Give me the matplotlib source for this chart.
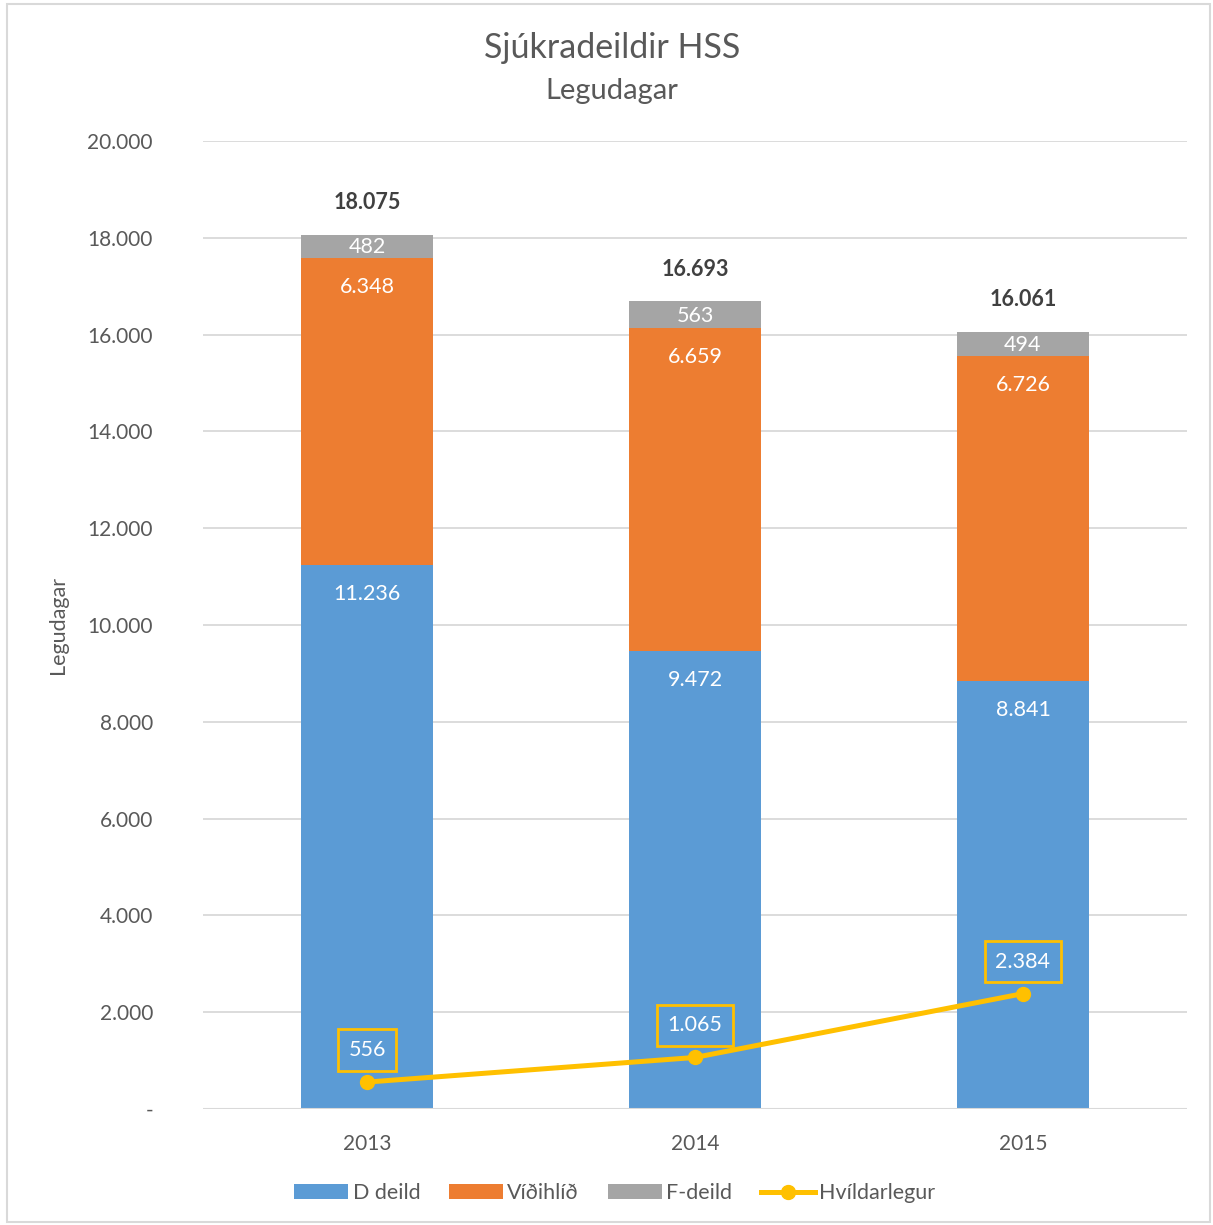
import matplotlib.pyplot as plt
from matplotlib.patches import Rectangle
import numpy as np

plt.rcParams['font.family'] = ['Lato', 'DejaVu Sans']

# Data
years = ['2013', '2014', '2015']
d_deild = [11236, 9472, 8841]
vidihlid = [6348, 6659, 6726]
f_deild = [482, 563, 494]
totals = [18075, 16693, 16061]
hvildarlegur = [556, 1065, 2384]

blue = '#5B9BD5'
orange = '#ED7D31'
gray = '#A5A5A5'
yellow = '#FFC000'
txt = '#595959'


def fmt(v):
    return f'{v:,}'.replace(',', '.')


fig = plt.figure(figsize=(12.13, 12.25), dpi=100)
ax = fig.add_axes([203 / 1213, 116 / 1225, 984 / 1213, 968 / 1225])

x = np.arange(len(years))
w = 0.4
b1 = ax.bar(x, d_deild, w, color=blue, label='D deild', zorder=2)
b2 = ax.bar(x, vidihlid, w, bottom=d_deild, color=orange, label='Víðihlíð', zorder=2)
bottom3 = np.array(d_deild) + np.array(vidihlid)
b3 = ax.bar(x, f_deild, w, bottom=bottom3, color=gray, label='F-deild', zorder=2)
ln, = ax.plot(x, hvildarlegur, color=yellow, lw=3.6, marker='o', ms=10,
              label='Hvíldarlegur', zorder=4)

# labels inside bars
for i in range(len(years)):
    ax.annotate(fmt(d_deild[i]), (x[i], d_deild[i]), xytext=(0, -29),
                textcoords='offset pixels', ha='center', va='center',
                color='white', fontsize=15.5, zorder=5)
    ax.annotate(fmt(vidihlid[i]), (x[i], bottom3[i]), xytext=(0, -29),
                textcoords='offset pixels', ha='center', va='center',
                color='white', fontsize=15.5, zorder=5)
    ax.annotate(fmt(f_deild[i]), (x[i], bottom3[i] + f_deild[i] / 2), xytext=(0, -1),
                textcoords='offset pixels', ha='center', va='center',
                color='white', fontsize=15.5, zorder=5)
    ax.annotate(fmt(totals[i]), (x[i], bottom3[i] + f_deild[i]), xytext=(0, 32),
                textcoords='offset pixels', ha='center', va='center',
                color='#404040', fontsize=15.5, fontweight='bold', zorder=5)
    ax.annotate(fmt(hvildarlegur[i]), (x[i], hvildarlegur[i]), xytext=(0, 32),
                textcoords='offset pixels', ha='center', va='center',
                color='white', fontsize=15.5, zorder=5,
                bbox=dict(boxstyle='square,pad=0.5', fc='none', ec=yellow, lw=2))

ax.set_xlim(-0.5, 2.5)
ax.set_ylim(0, 20000)
yt = np.arange(0, 20001, 2000)
ax.set_yticks(yt)
ax.set_yticklabels(['-'] + [fmt(v) for v in yt[1:]])
ax.set_xticks(x)
ax.set_xticklabels(years)
ax.tick_params(axis='both', length=0, labelsize=15, labelcolor=txt)
ax.tick_params(axis='y', pad=36)
ax.tick_params(axis='x', pad=18)
ax.grid(axis='y', color='#D9D9D9', lw=1.3, zorder=0)
for s in ax.spines.values():
    s.set_visible(False)
ax.axhline(0, color='#D9D9D9', lw=1.5, zorder=3)

ax.set_ylabel('Legudagar', fontsize=15.5, color=txt)
ax.yaxis.set_label_coords(-0.137, 0.5)

fig.text(612 / 1213, 1 - 48 / 1225, 'Sjúkradeildir HSS', ha='center', va='center',
         fontsize=24.5, color=txt)
fig.text(612 / 1213, 1 - 91 / 1225, 'Legudagar', ha='center', va='center',
         fontsize=21, color=txt)

fig.legend(handles=[b1, b2, b3, ln], loc='center', bbox_to_anchor=(0.507, 32 / 1225),
           ncol=4, frameon=False, fontsize=15.5, handlelength=2.5, handleheight=0.65,
           handletextpad=0.2, columnspacing=1.35, labelcolor=txt)

fig.patches.append(Rectangle((7 / 1213, 3 / 1225), 1203 / 1213, 1218 / 1225,
                             transform=fig.transFigure, fill=False,
                             ec='#D9D9D9', lw=1.5))

fig.savefig('out.png', dpi=100)
